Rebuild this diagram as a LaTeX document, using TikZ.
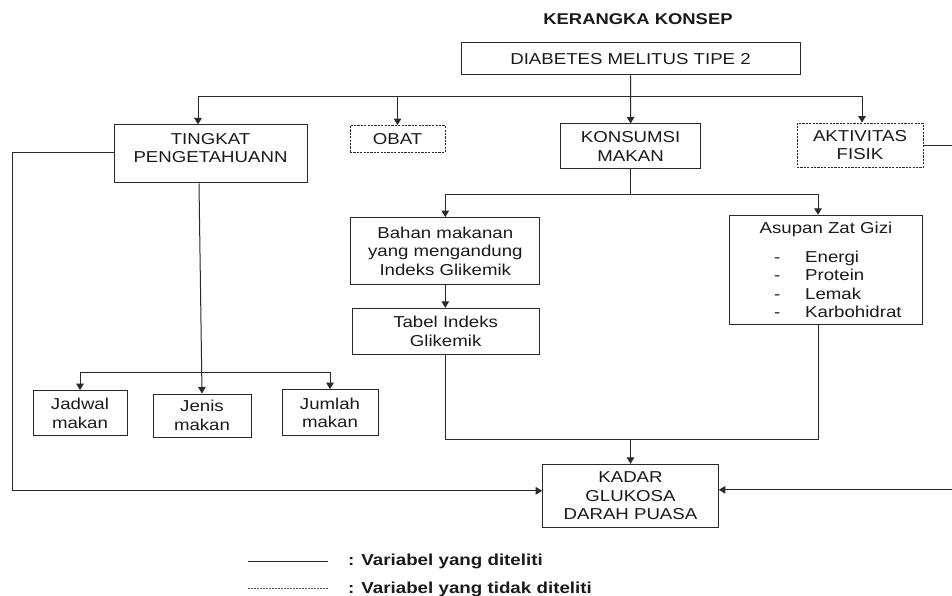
\documentclass[tikz,border=0pt]{standalone}
\usepackage{fontspec}
\setmainfont{Liberation Sans}[FakeStretch=1.18]
\usetikzlibrary{arrows.meta}
\definecolor{lc}{HTML}{2A2A2A}
\definecolor{tx}{HTML}{1A1A1A}
\begin{document}
\begin{tikzpicture}[x=1pt,y=-1pt,
  font=\fontsize{15.8}{18.4}\selectfont, text=tx,
  box/.style={draw=lc, line width=1pt, inner sep=0pt, align=center},
  dbox/.style={draw=lc, line width=0.9pt, dash pattern=on 2.2pt off 1.2pt, inner sep=0pt, align=center},
  txt/.style={inner sep=0pt, align=center},
  wire/.style={draw=lc, line width=1pt},
  arr/.style={draw=lc, line width=1pt, -{Triangle[length=6.5pt,width=7.5pt]}}]
\useasboundingbox (0,0) rectangle (952,596);

\node[txt, font=\bfseries\fontsize{15.6}{18.3}\selectfont, anchor=base] (title) at (638,25) {KERANGKA KONSEP};

\node[box, minimum width=339pt, minimum height=32pt] (dia) at (630.5,59) {DIABETES MELITUS TIPE 2};
\node[box, minimum width=193pt, minimum height=58pt] (ting) at (210.5,154) {};
\node[txt] (tingT) at (210.5,148) {TINGKAT\\PENGETAHUANN};
\node[dbox, minimum width=95pt, minimum height=27pt] (obat) at (397.5,139) {OBAT};
\node[box, minimum width=140pt, minimum height=45pt] (kon) at (630.6,146.5) {KONSUMSI\\MAKAN};
\node[dbox, minimum width=126pt, minimum height=44.5pt] (akt) at (860,145.3) {AKTIVITAS\\FISIK};

\node[box, minimum width=189.3pt, minimum height=67.3pt] (bahan) at (445.3,251.3) {Bahan makanan\\yang mengandung\\Indeks Glikemik};
\node[box, minimum width=187pt, minimum height=45.7pt] (tabel) at (445.6,331.2) {Tabel Indeks\\Glikemik};
\node[box, minimum width=193.4pt, minimum height=109.4pt] (asu) at (826,270) {};
\node[txt] (asuT) at (826,229) {Asupan Zat Gizi};
\node[txt, anchor=west, align=left] (asuL) at (774,284.5) {\makebox[31pt][l]{-}Energi\\\makebox[31pt][l]{-}Protein\\\makebox[31pt][l]{-}Lemak\\\makebox[31pt][l]{-}Karbohidrat};

\node[box, minimum width=94pt, minimum height=45.3pt] (jad) at (80,413.3) {Jadwal\\makan};
\node[box, minimum width=98pt, minimum height=43pt] (jen) at (202,415.5) {Jenis\\makan};
\node[box, minimum width=96pt, minimum height=46.3pt] (jum) at (330,412.8) {Jumlah\\makan};

\node[box, minimum width=175.6pt, minimum height=63pt] (kad) at (630.5,495.8) {KADAR\\GLUKOSA\\DARAH PUASA};

\coordinate (b1) at (0,97);
\coordinate (b2) at (0,194.3);
\coordinate (b3) at (0,372.3);
\coordinate (b4) at (0,439.5);
\coordinate (L) at (12,0);
\coordinate (R) at (958,0);

% top level
\draw[arr] (dia.south) -- (kon.north);
\draw[arr] (dia.south |- b1) -| ([xshift=-12.5pt]ting.north);
\draw[arr] (dia.south |- b1) -| ([xshift=2pt]akt.north);
\draw[arr] (obat.north |- b1) -- (obat.north);

% konsumsi branch
\draw[arr] (kon.south) |- (bahan.north |- b2) -- (bahan.north);
\draw[arr] (kon.south |- b2) -| ([xshift=-8pt]asu.north);
\draw[arr] (bahan.south) -- (bahan.south |- tabel.north);
\draw[wire] (tabel.south) -- (tabel.south |- b4) -- ([xshift=-8pt]asu.south |- b4) -- ([xshift=-8pt]asu.south);
\draw[arr] (kad.north |- b4) -- (kad.north);

% tingkat branch
\draw[arr] ([xshift=-11.5pt]ting.south) -- (jen.north);
\draw[arr] (jen.north |- b3) -| (jad.north);
\draw[arr] (jen.north |- b3) -| (jum.north);

% long side connectors
\draw[arr] ([yshift=1pt]ting.west) -- ([yshift=1pt]ting.west -| L) |- ([yshift=5pt]kad.west);
\draw[arr] (akt.east) -- (akt.east -| R) |- ([yshift=6pt]kad.east);

% legend
\coordinate (l1a) at (248,561);
\coordinate (l1b) at (328,561);
\coordinate (l2a) at (248,588);
\coordinate (l2b) at (328,588);
\draw[draw=lc, line width=1pt] (l1a) -- (l1b);
\draw[draw=gray!70!black, line width=1pt, dash pattern=on 2pt off 1pt] (l2a) -- (l2b);
\node[txt, anchor=base west, font=\bfseries\fontsize{15.9}{18.3}\selectfont] (leg1) at (348,565.7) {: Variabel yang diteliti};
\node[txt, anchor=base west, font=\bfseries\fontsize{15.9}{18.3}\selectfont] (leg2) at (348,593.5) {: Variabel yang tidak diteliti};
\end{tikzpicture}
\end{document}
